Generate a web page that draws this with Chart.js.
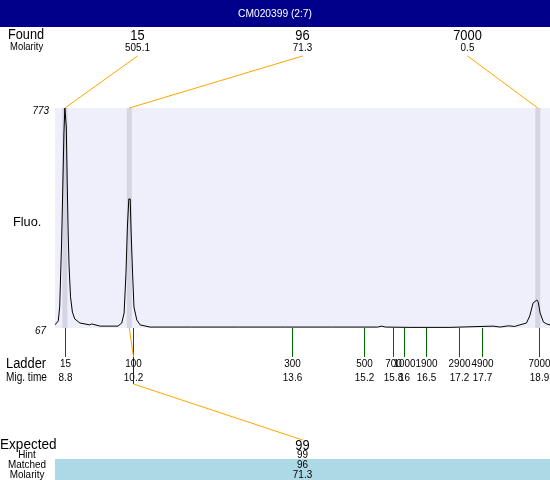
<!DOCTYPE html>
<html>
<head>
<meta charset="utf-8">
<script src="https://cdn.jsdelivr.net/npm/chart.js@4"></script>
<style>
  html, body { margin: 0; padding: 0; background: #fff; }
  canvas { display: block; }
</style>
</head>
<body>
<canvas id="chart" width="550" height="480" style="width:550px;height:480px"></canvas>
<script>
// Data
const title = 'CM020399 (2:7)';

const traceTimes = [8.59, 8.66, 8.69, 8.73, 8.75, 8.78, 8.80, 8.83, 8.85, 8.87, 8.89, 8.92, 8.96, 9.01,
    9.12, 9.33, 9.37, 9.55, 9.93, 10.01, 10.06, 10.10, 10.13, 10.16, 10.19, 10.21, 10.24, 10.27, 10.33,
    10.40, 10.61, 11.5, 12.5, 13.5, 14.5, 15.45, 15.54, 15.62, 16.14, 16.99, 17.91, 18.06, 18.23, 18.37,
    18.48, 18.62, 18.69, 18.76, 18.84, 18.87, 18.91, 18.98, 19.05, 19.12];
const traceFluo = [77, 90, 135, 340, 478, 693, 773, 712, 532, 372, 263, 167, 118, 96,
    83, 77, 80, 73, 73, 83, 115, 243, 391, 481, 481, 372, 243, 134, 93,
    77, 70, 70, 70, 70, 70, 70, 73, 70, 69, 69, 73, 70, 74, 72,
    77, 83, 106, 147, 157, 150, 115, 86, 80, 77];

const foundSizes = ['15', '96', '7000'];
const foundMolarity = ['505.1', '71.3', '0.5'];
const foundTimes = [8.80, 10.17, 18.86];

const ladderSizes = ['15', '100', '300', '500', '700', '1000', '1900', '2900', '4900', '7000'];
const ladderTimes = [8.80, 10.24, 13.63, 15.16, 15.78, 16.01, 16.48, 17.18, 17.67, 18.89];
const migLabels = ladderTimes.map(t => String(+t.toFixed(1)));

const expectedSizes = ['99'];
const hintSizes = ['99'];
const matchedSizes = ['96'];
const matchedMolarity = ['71.3'];
const matchFound = 1;   // found peak 96
const matchLadder = 1;  // ladder 100

const xMin = 8.59, xMax = 19.12;
const yMin = 67, yMax = 773;

// Helpers
const FONT = '"Liberation Sans", Arial, sans-serif';

function drawText(c, str, x, y, size, align, sx, style) {
    c.save();
    c.font = (style || '') + ' ' + size + 'px ' + FONT;
    c.textAlign = align;
    c.textBaseline = 'alphabetic';
    c.fillStyle = '#000';
    c.translate(x, y);
    c.scale(sx, 1);
    c.fillText(str, 0, 0);
    c.restore();
}

function line(c, color, x1, y1, x2, y2) {
    c.save();
    c.strokeStyle = color;
    c.lineWidth = 1;
    c.beginPath();
    c.moveTo(x1, y1);
    c.lineTo(x2, y2);
    c.stroke();
    c.restore();
}

// Plugins
const backdrop = {
    id: 'backdrop',
    beforeDraw(chart) {
        const c = chart.ctx, a = chart.chartArea;
        c.save();
        c.fillStyle = '#fff';
        c.fillRect(0, 0, chart.width, chart.height);
        c.fillStyle = '#00008B';
        c.fillRect(0, 0, chart.width, 27);
        c.fillStyle = '#EFEFFB';
        c.fillRect(a.left, a.top, a.right - a.left, a.bottom - a.top);
        c.fillStyle = '#ADD8E6';
        c.fillRect(a.left, 459, a.right - a.left, chart.height - 459);
        c.restore();

        c.save();
        c.font = '11px ' + FONT;
        c.fillStyle = '#fff';
        c.textAlign = 'center';
        c.textBaseline = 'middle';
        c.translate(chart.width / 2, 14);
        c.scale(0.93, 1);
        c.fillText(title, 0, 0);
        c.restore();
    },
    beforeDatasetsDraw(chart) {
        const c = chart.ctx, a = chart.chartArea, x = chart.scales.x;
        c.save();
        c.fillStyle = '#D4D4E2';
        foundTimes.forEach(t => {
            const px = x.getPixelForValue(t);
            c.fillRect(px - 2.5, a.top, 5, a.bottom - a.top);
        });
        c.restore();
    }
};

const annotations = {
    id: 'annotations',
    afterDatasetsDraw(chart) {
        const c = chart.ctx, a = chart.chartArea, x = chart.scales.x;
        const w = a.right - a.left;

        // Found row
        drawText(c, 'Found', 8, 39, 14, 'left', 0.91);
        drawText(c, 'Molarity', 10, 50, 11, 'left', 0.86);
        foundSizes.forEach((s, i) => {
            const lx = a.left + w * (i + 0.5) / foundSizes.length;
            drawText(c, s, lx, 40, 14, 'center', 0.92);
            drawText(c, foundMolarity[i], lx, 51, 11, 'center', 0.9);
            line(c, '#FFA500', lx, 56, x.getPixelForValue(foundTimes[i]), a.top);
        });

        // Y labels
        drawText(c, String(yMax), 49, 114, 11, 'right', 0.9, 'italic');
        drawText(c, String(yMin), 46, 334, 11, 'right', 0.9, 'italic');
        drawText(c, 'Fluo.', 13, 226, 13, 'left', 0.98);

        // Ladder
        drawText(c, 'Ladder', 6, 368, 14, 'left', 0.92);
        drawText(c, 'Mig. time', 6, 381, 12, 'left', 0.84);
        ladderTimes.forEach((t, i) => {
            const px = Math.round(x.getPixelForValue(t)) + 0.5;
            line(c, '#006400', px, a.bottom, px, 357);
            drawText(c, ladderSizes[i], px, 367, 11, 'center', 0.9);
            drawText(c, migLabels[i], px, 381, 11, 'center', 0.9);
        });

        // Match link: found peak -> ladder -> expected column
        const fx = x.getPixelForValue(foundTimes[matchFound]);
        const lx = Math.round(x.getPixelForValue(ladderTimes[matchLadder])) + 0.5;
        const ex = a.left + w / 2;
        line(c, '#FFA500', fx, a.bottom, lx, 357);
        line(c, '#0000FF', lx, 357, lx, 384);
        line(c, '#FFA500', lx, 384, ex, 440);

        // Expected table
        drawText(c, 'Expected', 0, 449, 14, 'left', 0.97);
        drawText(c, 'Hint', 27, 458, 11, 'center', 0.9);
        drawText(c, 'Matched', 27, 468, 11, 'center', 0.9);
        drawText(c, 'Molarity', 27, 478, 11, 'center', 0.9);
        expectedSizes.forEach((s, i) => {
            const cx = a.left + w * (i + 0.5) / expectedSizes.length;
            drawText(c, s, cx, 450, 14, 'center', 0.92);
            drawText(c, hintSizes[i], cx, 458, 11, 'center', 0.9);
            drawText(c, matchedSizes[i], cx, 468, 11, 'center', 0.9);
            drawText(c, matchedMolarity[i], cx, 478, 11, 'center', 0.9);
        });
    }
};

// Chart
const ctx = document.getElementById('chart').getContext('2d');

new Chart(ctx, {
    type: 'line',
    data: {
        datasets: [{
            data: traceTimes.map((t, i) => ({ x: t, y: traceFluo[i] })),
            borderColor: '#000',
            borderWidth: 1,
            pointRadius: 0,
            tension: 0,
            fill: false
        }]
    },
    options: {
        responsive: false,
        animation: false,
        devicePixelRatio: 1,
        layout: { padding: { left: 55, right: 0, top: 108, bottom: 152 } },
        plugins: { legend: { display: false }, tooltip: { enabled: false } },
        scales: {
            x: { type: 'linear', min: xMin, max: xMax, display: false },
            y: { type: 'linear', min: yMin, max: yMax, display: false }
        }
    },
    plugins: [backdrop, annotations]
});
</script>
</body>
</html>
